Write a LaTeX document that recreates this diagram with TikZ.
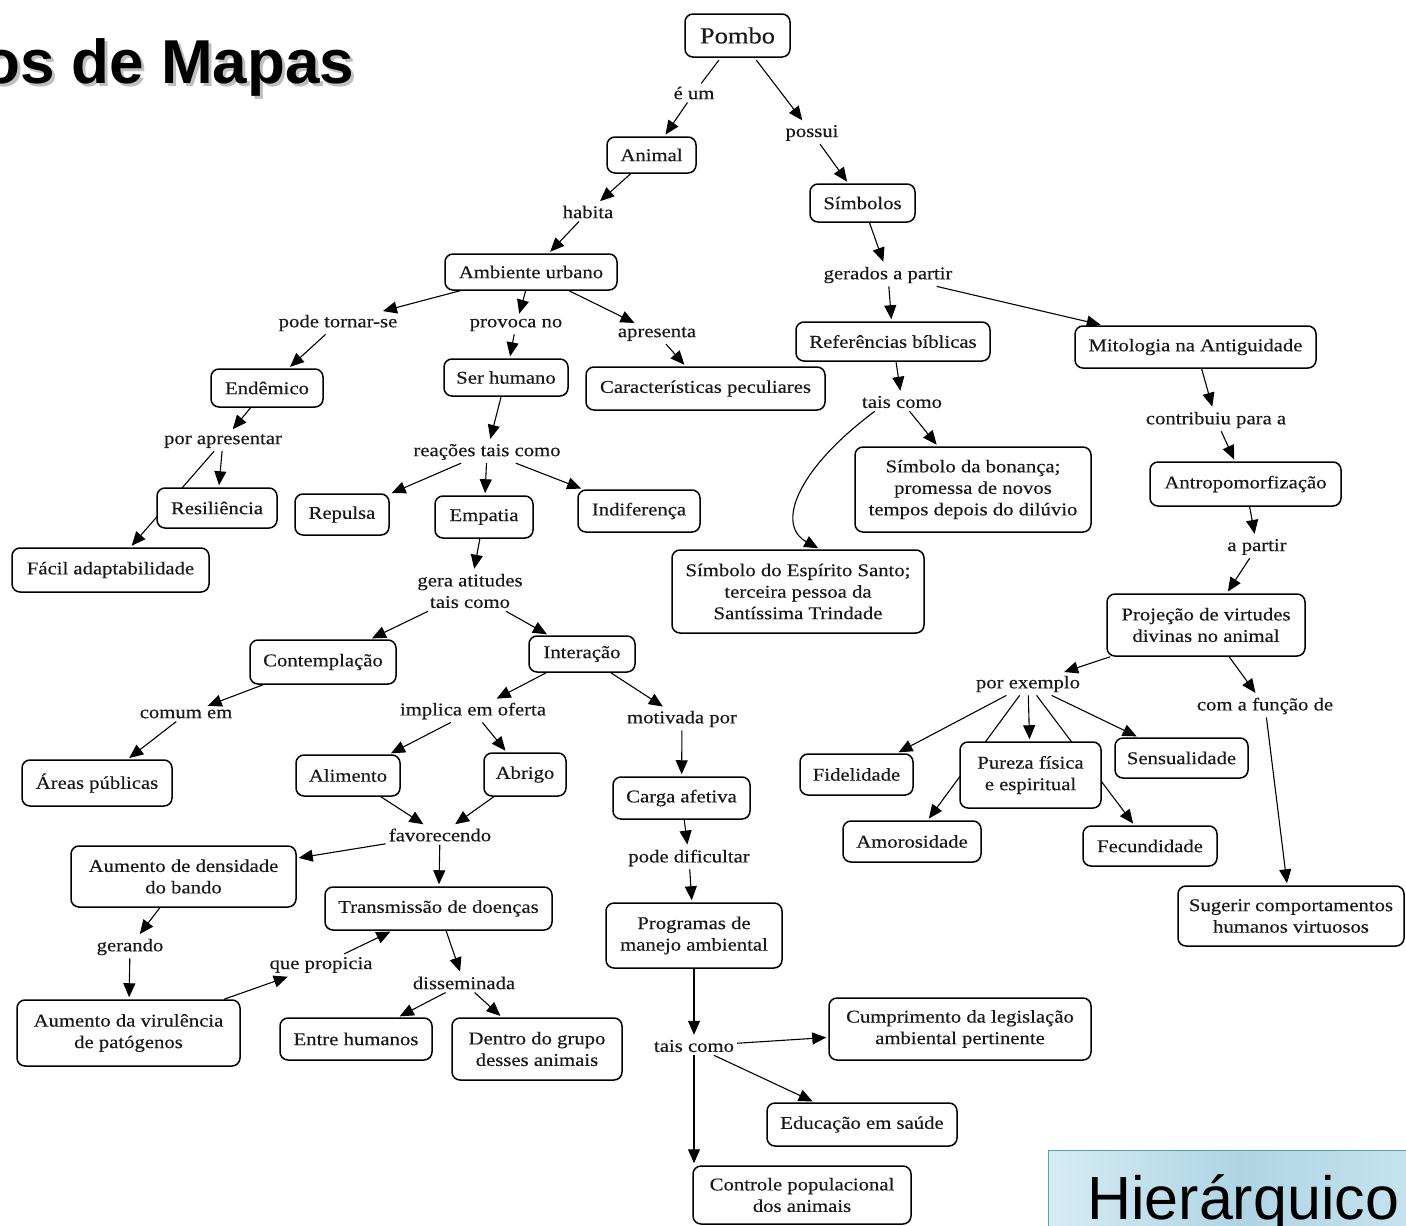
\documentclass[tikz,border=0pt]{standalone}
\usepackage{fontspec}
\setmainfont{Liberation Serif}[FakeStretch=1.15,FakeBold=0.35]
\newfontfamily\titlefont{Liberation Sans}
\usetikzlibrary{arrows.meta}
\pgfdeclarelayer{bg}
\pgfdeclarelayer{edges}
\pgfsetlayers{bg,edges,main}
\newcommand\nf{\fontsize{18}{21.5}\selectfont}
\tikzset{
  box/.style={draw=black, line width=1.5pt, rounded corners=8pt, fill=white,
    align=center, inner sep=2pt, font=\nf, text={rgb,255:red,25;green,25;blue,25}},
  sz/.style 2 args={minimum width=#1pt, minimum height=#2pt},
  lbl/.style={align=center, inner sep=3pt, font=\nf, text={rgb,255:red,25;green,25;blue,25}},
  arr/.style={-{Triangle[length=14pt,width=12pt]}, line width=1.1pt, shorten >=2pt},
  ln/.style={line width=1.1pt},
}
\begin{document}
\begin{tikzpicture}[x=1pt,y=-1pt]
\useasboundingbox (0,0) rectangle (1406,1226);
\begin{pgfonlayer}{bg}
\fill[white] (0,0) rectangle (1406,1226);
\end{pgfonlayer}

% title
\node[anchor=base west, inner sep=0, font=\titlefont\bfseries\fontsize{62}{62}\selectfont, text=gray!50] (titlesh) at (-15,86) {os de Mapas};
\node[anchor=base west, inner sep=0, font=\titlefont\bfseries\fontsize{62}{62}\selectfont] (title) at (-18,83) {os de Mapas};

% Hierarquico box
\path[draw={rgb,255:red,80;green,160;blue,190}, line width=1pt,
  left color={rgb,255:red,214;green,236;blue,245},
  right color={rgb,255:red,200;green,228;blue,240},
  middle color={rgb,255:red,176;green,212;blue,228}] (1048,1150) rectangle (1430,1250);
\node[anchor=base west, inner sep=0, font=\titlefont\fontsize{61}{61}\selectfont] (hier) at (1087,1219) {Hierárquico};

% concept boxes
\node[box,sz={105}{43},font=\fontsize{23}{26}\selectfont] (pombo) at (737.5,35.5) {Pombo};
\node[box,sz={89}{36}] (animal) at (651.5,155) {Animal};
\node[box,sz={105}{38}] (simbolos) at (862.5,203) {Símbolos};
\node[box,sz={172}{36}] (ambiente) at (531,272) {Ambiente urbano};
\node[box,sz={194}{39}] (referencias) at (893,341.5) {Referências bíblicas};
\node[box,sz={241}{42}] (mitologia) at (1195.5,347) {Mitologia na Antiguidade};
\node[box,sz={112}{38}] (endemico) at (267,388) {Endêmico};
\node[box,sz={124}{37}] (serhumano) at (506,377.5) {Ser humano};
\node[box,sz={239}{43}] (caracteristicas) at (705.5,388.5) {Características peculiares};
\node[box,sz={120}{40}] (resiliencia) at (217,508) {Resiliência};
\node[box,sz={94}{41}] (repulsa) at (342,514.5) {Repulsa};
\node[box,sz={98}{42}] (empatia) at (484,517) {Empatia};
\node[box,sz={122}{42}] (indiferenca) at (639,511) {Indiferença};
\node[box,sz={236}{85}] (bonanca) at (973,489.5) {Símbolo da bonança;\\promessa de novos\\tempos depois do dilúvio};
\node[box,sz={191}{44}] (antropo) at (1245.5,484) {Antropomorfização};
\node[box,sz={197}{44}] (facil) at (110.5,570) {Fácil adaptabilidade};
\node[box,sz={252}{83}] (espirito) at (798,591.5) {Símbolo do Espírito Santo;\\terceira pessoa da\\Santíssima Trindade};
\node[box,sz={198}{62}] (projecao) at (1206,625) {Projeção de virtudes\\divinas no animal};
\node[box,sz={146}{44}] (contemplacao) at (323,662) {Contemplação};
\node[box,sz={106}{36}] (interacao) at (582,654) {Interação};
\node[box,sz={150}{46}] (areas) at (97,783) {Áreas públicas};
\node[box,sz={104}{41}] (alimento) at (348,775.5) {Alimento};
\node[box,sz={82}{43}] (abrigo) at (525,774.5) {Abrigo};
\node[box,sz={137}{42}] (carga) at (681.5,798) {Carga afetiva};
\node[box,sz={113}{41}] (fidelidade) at (856.5,774.5) {Fidelidade};
\node[box,sz={141}{66}] (pureza) at (1030.5,775) {Pureza física\\e espiritual};
\node[box,sz={133}{40}] (sensualidade) at (1181.5,758) {Sensualidade};
\node[box,sz={138}{41}] (amorosidade) at (912,841.5) {Amorosidade};
\node[box,sz={134}{40}] (fecundidade) at (1150,846) {Fecundidade};
\node[box,sz={225}{61}] (densidade) at (183.5,876.5) {Aumento de densidade\\do bando};
\node[box,sz={227}{43}] (transmissao) at (438.5,908.5) {Transmissão de doenças};
\node[box,sz={176}{65}] (programas) at (694,935.5) {Programas de\\manejo ambiental};
\node[box,sz={226}{60}] (sugerir) at (1291,916) {Sugerir comportamentos\\humanos virtuosos};
\node[box,sz={223}{66}] (virulencia) at (128.5,1033) {Aumento da virulência\\de patógenos};
\node[box,sz={152}{42}] (entre) at (356,1039) {Entre humanos};
\node[box,sz={170}{62}] (dentro) at (537,1049) {Dentro do grupo\\desses animais};
\node[box,sz={262}{62}] (cumprimento) at (960,1029) {Cumprimento da legislação\\ambiental pertinente};
\node[box,sz={190}{43}] (educacao) at (862,1124.5) {Educação em saúde};
\node[box,sz={218}{58}] (controle) at (802,1195) {Controle populacional\\dos animais};

% linking phrases
\node[lbl] (eum) at (694,93) {é um};
\node[lbl] (possui) at (812,133) {possui};
\node[lbl] (habita) at (588,212) {habita};
\node[lbl] (gerados) at (888,275) {gerados a partir};
\node[lbl] (podetornar) at (338,323) {pode tornar-se};
\node[lbl] (provoca) at (516,325) {provoca no};
\node[lbl] (apresenta) at (657,334) {apresenta};
\node[lbl] (taiscomoA) at (902,402) {tais como};
\node[lbl] (contribuiu) at (1216,420) {contribuiu para a};
\node[lbl] (porapresentar) at (223,441) {por apresentar};
\node[lbl] (reacoes) at (487,452) {reações tais como};
\node[lbl] (apartir) at (1257,547) {a partir};
\node[lbl] (geraatitudes) at (470,591) {gera atitudes\\tais como};
\node[lbl] (porexemplo) at (1028,684) {por exemplo};
\node[lbl] (comafuncao) at (1265,706) {com a função de};
\node[lbl] (comumem) at (186,714) {comum em};
\node[lbl] (implica) at (473,711) {implica em oferta};
\node[lbl] (motivada) at (682,719) {motivada por};
\node[lbl] (favorecendo) at (440,835) {favorecendo};
\node[lbl] (podedificultar) at (689,858) {pode dificultar};
\node[lbl] (gerando) at (130,947) {gerando};
\node[lbl] (quepropicia) at (321,965) {que propicia};
\node[lbl] (disseminada) at (464,983) {disseminada};
\node[lbl] (taiscomoB) at (694,1046) {tais como};

\begin{pgfonlayer}{edges}
\draw[ln, shorten <=3pt] (pombo) -- (eum);
\draw[arr] (eum) -- (animal);
\draw[arr, shorten <=3pt] (pombo) -- (possui);
\draw[arr] (possui) -- (simbolos);
\draw[arr] (animal) -- (habita);
\draw[arr] (habita) -- (ambiente);
\draw[arr] (simbolos) -- (gerados);
\draw[arr] (gerados) -- (referencias);
\draw[arr] (gerados) -- (mitologia);
\draw[arr] (ambiente) -- (podetornar);
\draw[arr] (ambiente) -- (provoca);
\draw[arr] (ambiente) -- (apresenta);
\draw[arr] (podetornar) -- (endemico);
\draw[arr] (provoca) -- (serhumano);
\draw[arr] (apresenta) -- (caracteristicas);
\draw[arr] (referencias) -- (taiscomoA);
\draw[arr] (taiscomoA) -- (bonanca);
\draw[arr] ([xshift=16pt]taiscomoA.south west) .. controls (796,470) and (776,525) .. ([xshift=22pt]espirito.north);
\draw[arr] (mitologia) -- (contribuiu);
\draw[arr] (contribuiu) -- (antropo);
\draw[arr] (antropo) -- (apartir);
\draw[arr] (apartir) -- (projecao);
\draw[arr] (endemico) -- (porapresentar);
\draw[arr] (porapresentar) -- (resiliencia);
\draw[arr] (porapresentar) -- (facil);
\draw[arr] (serhumano) -- (reacoes);
\draw[arr] (reacoes) -- (repulsa);
\draw[arr] (reacoes) -- (empatia);
\draw[arr] (reacoes) -- (indiferenca);
\draw[arr] (empatia) -- (geraatitudes);
\draw[arr] (geraatitudes) -- (contemplacao);
\draw[arr] (geraatitudes) -- (interacao);
\draw[arr] (contemplacao) -- (comumem);
\draw[arr] (comumem) -- (areas);
\draw[arr] (interacao) -- (implica);
\draw[arr] (interacao) -- (motivada);
\draw[arr] (implica) -- (alimento);
\draw[arr] (implica) -- (abrigo);
\draw[arr] (motivada) -- (carga);
\draw[arr] (alimento) -- (favorecendo);
\draw[arr] (abrigo) -- (favorecendo);
\draw[arr] (favorecendo) -- (densidade);
\draw[arr] (favorecendo) -- (transmissao);
\draw[arr] (densidade) -- (gerando);
\draw[arr] (gerando) -- (virulencia);
\draw[arr] (virulencia) -- (quepropicia);
\draw[arr] (quepropicia) -- (transmissao);
\draw[arr] (transmissao) -- (disseminada);
\draw[arr] (disseminada) -- (entre);
\draw[arr] (disseminada) -- (dentro);
\draw[arr] (carga) -- (podedificultar);
\draw[arr] (podedificultar) -- (programas);
\draw[arr] (programas) -- (taiscomoB);
\draw[arr] (taiscomoB) -- (cumprimento);
\draw[arr] (taiscomoB) -- (educacao);
\draw[arr] (taiscomoB) -- (taiscomoB |- controle.north);
\draw[arr] (projecao) -- (porexemplo);
\draw[arr] (projecao) -- (comafuncao);
\draw[arr] (porexemplo) -- (fidelidade);
\draw[arr] (porexemplo) -- (pureza);
\draw[arr] (porexemplo) -- (sensualidade);
\draw[arr] (porexemplo) -- (amorosidade);
\draw[arr] (porexemplo) -- (fecundidade);
\draw[arr] (comafuncao) -- (sugerir);
\end{pgfonlayer}
\end{tikzpicture}
\end{document}
